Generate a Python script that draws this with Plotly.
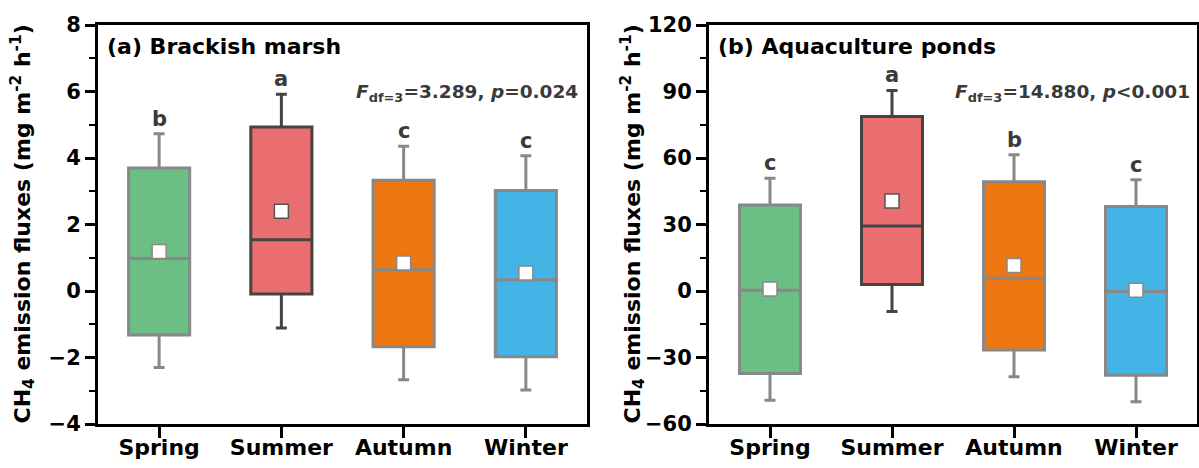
import plotly.graph_objects as go

seasons = ["Spring", "Summer", "Autumn", "Winter"]
fill_colors = ["#6BBF84", "#EA6E70", "#EE7712", "#42B4E5"]
edge_colors = ["#888888", "#444444", "#888888", "#888888"]

marsh_q1 = [-1.32, -0.09, -1.68, -1.98]
marsh_median = [0.98, 1.54, 0.64, 0.34]
marsh_q3 = [3.70, 4.93, 3.33, 3.02]
marsh_low = [-2.30, -1.11, -2.67, -2.98]
marsh_high = [4.73, 5.92, 4.35, 4.07]
marsh_mean = [1.19, 2.40, 0.84, 0.54]
marsh_letters = ["b", "a", "c", "c"]

pond_q1 = [-37.2, 2.9, -26.6, -38.0]
pond_median = [0.3, 29.3, 5.7, -0.2]
pond_q3 = [38.8, 78.7, 49.3, 38.1]
pond_low = [-49.3, -9.2, -38.7, -50.0]
pond_high = [50.9, 90.5, 61.5, 50.2]
pond_mean = [0.9, 40.6, 11.5, 0.3]
pond_letters = ["c", "a", "b", "c"]

W, H = 1199, 468
FONT = "DejaVu Sans, Liberation Sans, Arial, sans-serif"
TXT = "#3a3a3a"

fig = go.Figure()

panels = [
    dict(xa="x", ya="y", q1=marsh_q1, med=marsh_median, q3=marsh_q3, lo=marsh_low,
         hi=marsh_high, mean=marsh_mean, letters=marsh_letters),
    dict(xa="x2", ya="y2", q1=pond_q1, med=pond_median, q3=pond_q3, lo=pond_low,
         hi=pond_high, mean=pond_mean, letters=pond_letters),
]

annotations = []
for p in panels:
    for i, s in enumerate(seasons):
        fig.add_trace(go.Box(
            x=[s], q1=[p["q1"][i]], median=[p["med"][i]], q3=[p["q3"][i]],
            lowerfence=[p["lo"][i]], upperfence=[p["hi"][i]],
            fillcolor=fill_colors[i], line=dict(color=edge_colors[i], width=3),
            width=0.5, whiskerwidth=0.18, boxpoints=False, showlegend=False,
            xaxis=p["xa"], yaxis=p["ya"], hoverinfo="skip"))
        fig.add_trace(go.Scatter(
            x=[s], y=[p["mean"][i]], mode="markers",
            marker=dict(symbol="square", size=14, color="white",
                        line=dict(color=edge_colors[i] if i != 1 else "#555555", width=1.5)),
            showlegend=False, xaxis=p["xa"], yaxis=p["ya"], hoverinfo="skip"))
        annotations.append(dict(
            x=s, y=p["hi"][i], xref=p["xa"], yref=p["ya"], text=f"<b>{p['letters'][i]}</b>",
            showarrow=False, yanchor="bottom", yshift=1,
            font=dict(family=FONT, size=21, color=TXT)))

dom1 = [98 / W, 587 / W]
dom2 = [709 / W, 1197 / W]
ydom = [1 - 424 / H, 1 - 25 / H]

common_x = dict(type="category", categoryorder="array", categoryarray=seasons,
                range=[-0.5, 3.5], showline=True, linecolor="black", linewidth=3,
                mirror=True, ticks="outside", ticklen=11, tickwidth=3, tickcolor="black",
                ticklabelstandoff=-9,
                tickfont=dict(family=FONT, size=22, color="black", weight="bold"),
                showgrid=False, zeroline=False, fixedrange=True, automargin=False)
common_y = dict(showline=True, linecolor="black", linewidth=3, mirror=True,
                ticks="outside", ticklen=10, tickwidth=3, tickcolor="black",
                tickfont=dict(family=FONT, size=21, color="black", weight="bold"),
                showgrid=False, zeroline=False, domain=ydom, automargin=False)

fig.update_layout(
    template="none",
    width=W, height=H, margin=dict(l=0, r=0, t=0, b=0, autoexpand=False),
    plot_bgcolor="white", paper_bgcolor="white", boxmode="overlay",
    xaxis=dict(domain=dom1, anchor="y", **common_x),
    xaxis2=dict(domain=dom2, anchor="y2", **common_x),
    yaxis=dict(anchor="x", range=[-4, 8], tickvals=[-4, -2, 0, 2, 4, 6, 8],
               minor=dict(tickvals=[-3, -1, 1, 3, 5, 7], ticks="outside", ticklen=6,
                          tickwidth=2, tickcolor="black"),
               **common_y),
    yaxis2=dict(anchor="x2", range=[-60, 120], tickvals=[-60, -30, 0, 30, 60, 90, 120],
                minor=dict(tickvals=[-45, -15, 15, 45, 75, 105], ticks="outside", ticklen=6,
                           tickwidth=2, tickcolor="black"),
                **common_y),
)

ytitle = "<b>CH<sub>4</sub> emission fluxes (mg m<sup>-2</sup> h<sup>-1</sup>)</b>"
ymid = (ydom[0] + ydom[1]) / 2
annotations += [
    dict(x=22 / W, y=ymid, xref="paper", yref="paper", text=ytitle, textangle=-90,
         showarrow=False, xanchor="center", yanchor="middle",
         font=dict(family=FONT, size=22, color="black")),
    dict(x=632 / W, y=ymid, xref="paper", yref="paper", text=ytitle, textangle=-90,
         showarrow=False, xanchor="center", yanchor="middle",
         font=dict(family=FONT, size=22, color="black")),
    dict(x=105 / W, y=1 - 47 / H, xref="paper", yref="paper",
         text="<b>(a) Brackish marsh</b>", showarrow=False, xanchor="left", yanchor="middle",
         font=dict(family=FONT, size=22, color="black")),
    dict(x=716 / W, y=1 - 47 / H, xref="paper", yref="paper",
         text="<b>(b) Aquaculture ponds</b>", showarrow=False, xanchor="left", yanchor="middle",
         font=dict(family=FONT, size=22, color="black")),
    dict(x=580 / W, y=1 - 93 / H, xref="paper", yref="paper",
         text="<b><i>F</i><sub>df=3</sub>=3.289, <i>p</i>=0.024</b>", showarrow=False,
         xanchor="right", yanchor="middle", font=dict(family=FONT, size=18.5, color=TXT)),
    dict(x=1192 / W, y=1 - 93 / H, xref="paper", yref="paper",
         text="<b><i>F</i><sub>df=3</sub>=14.880, <i>p</i>&lt;0.001</b>", showarrow=False,
         xanchor="right", yanchor="middle", font=dict(family=FONT, size=18.5, color=TXT)),
]
fig.update_layout(annotations=annotations)

fig.write_html("out.html")
